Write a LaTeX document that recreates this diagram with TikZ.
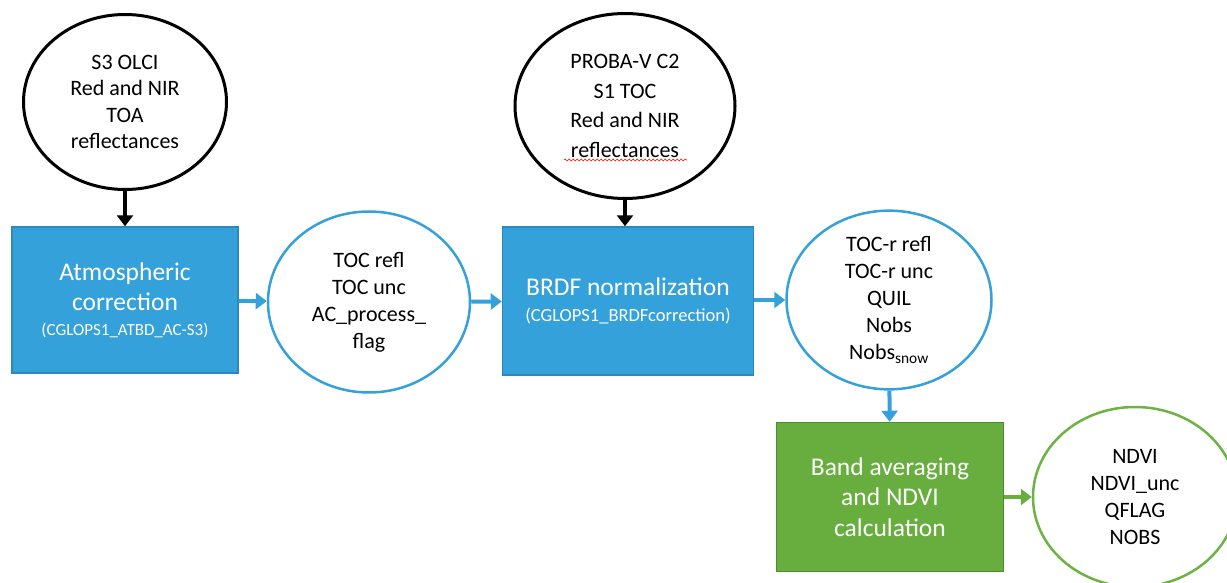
\documentclass[tikz,border=0pt]{standalone}
\usepackage{fontspec}
\setmainfont{Carlito}
\usetikzlibrary{arrows.meta,positioning,shapes.geometric,decorations.pathmorphing}
\definecolor{procblue}{HTML}{35A1DB}
\definecolor{procblueline}{HTML}{2C89BC}
\definecolor{procgreen}{HTML}{67AE3E}
\definecolor{procgreenline}{HTML}{4E8A2E}
\definecolor{outgreen}{HTML}{6DB343}
\newcommand{\refnote}[2][17]{{\fontsize{#1}{#1}\selectfont #2}}

\begin{document}
\begin{tikzpicture}[x=1pt,y=-1pt,>=Latex,
  src/.style={ellipse,draw,line width=3pt,align=center,inner sep=0pt,font=\fontsize{22}{26.5}\selectfont},
  prod/.style={ellipse,draw=procblue,line width=2.5pt,align=center,inner sep=0pt,font=\fontsize{22}{27}\selectfont},
  proc/.style={rectangle,draw=procblueline,fill=procblue,line width=1.5pt,text=white,align=center,font=\fontsize{25.5}{30.5}\selectfont},
  flow/.style={line width=4pt,-{Triangle[length=11pt,width=16pt]}}]
\clip (0,0) rectangle (1227,583);
% inputs
\node[src,minimum width=203pt,minimum height=175pt] (olci) at (125,102) {S3 OLCI\\Red and NIR\\TOA\\reflectances};
\node[src,minimum width=220pt,minimum height=185pt,font=\fontsize{22}{29.5}\selectfont] (proba) at (625,106) {PROBA-V C2\\S1 TOC\\Red and NIR\\reflectances};
% processing steps
\node[proc,minimum width=226pt,minimum height=146pt] (atm) at (125,300) {Atmospheric\\correction\\[-6pt]\refnote{(CGLOPS1\_ATBD\_AC-S3)}};
\node[proc,minimum width=251pt,minimum height=148pt] (brdf) at (628,301) {BRDF normalization\\[-4pt]\refnote[18.5]{(CGLOPS1\_BRDFcorrection)}};
\node[proc,draw=procgreenline,fill=procgreen,minimum width=227pt,minimum height=149pt] (ndvi) at (890,497) {Band averaging\\and NDVI\\calculation};
% products
\node[prod,minimum width=202pt,minimum height=181pt] (toc) at (369,302) {TOC refl\\TOC unc\\AC\_process\_\\flag};
\node[prod,minimum width=205pt,minimum height=176pt] (tocr) at (889,300) {TOC-r refl\\TOC-r unc\\QUIL\\Nobs\\Nobs\textsubscript{snow}};
\node[prod,draw=outgreen,minimum width=204pt,minimum height=180pt] (out) at (1135,497) {NDVI\\NDVI\_unc\\QFLAG\\NOBS};
% spell check mark
\draw[red,line width=0.6pt,decorate,decoration={snake,amplitude=0.9pt,segment length=4pt}] (564,160) -- (687,160);
% connectors
\draw[flow,line width=3.5pt] (olci) -- (atm);
\draw[flow,line width=3.5pt] (proba.south) -- (proba.south |- brdf.north);
\draw[flow,procblue] (atm) -- (toc);
\draw[flow,procblue] (toc) -- (brdf);
\draw[flow,procblue] (brdf.east |- tocr.west) -- (tocr);
\draw[flow,procblue] (tocr) -- (ndvi);
\draw[flow,procgreen] (ndvi) -- (out);
\end{tikzpicture}
\end{document}
